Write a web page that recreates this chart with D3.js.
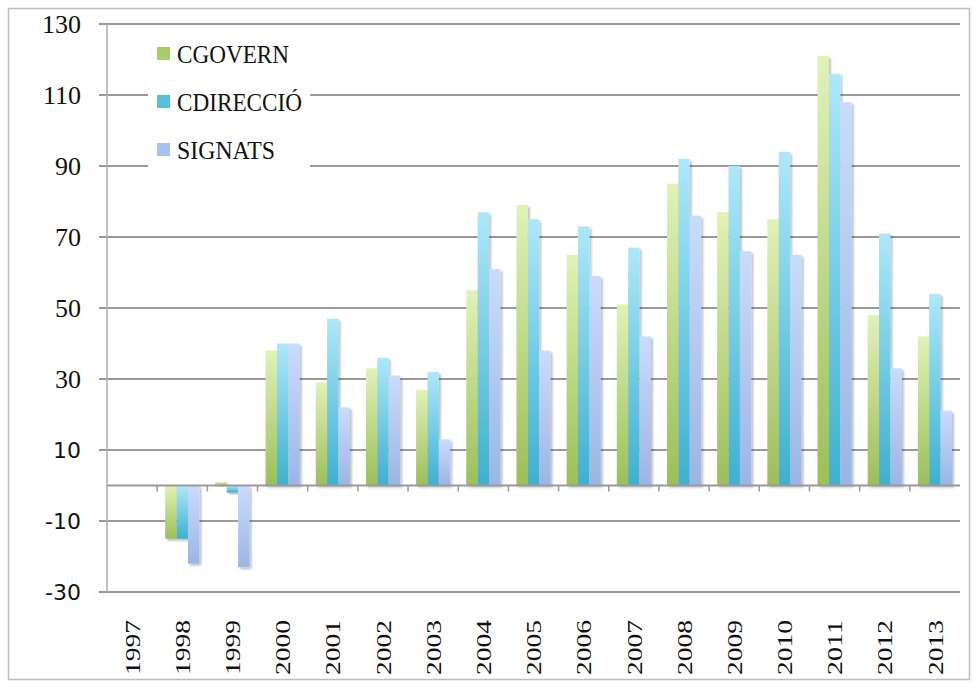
<!DOCTYPE html>
<html>
<head>
<meta charset="utf-8">
<script src="https://cdn.jsdelivr.net/npm/d3@7"></script>
<style>
  body { margin: 0; background: #fff; }
  svg { display: block; }
</style>
</head>
<body>
<div id="chart"></div>
<script>
var width = 973,
    height = 687;

// data
var years = ["1997","1998","1999","2000","2001","2002","2003","2004","2005",
             "2006","2007","2008","2009","2010","2011","2012","2013"];
var series = ["CGOVERN", "CDIRECCIÓ", "SIGNATS"];
var cgovern   = [0, -15, 1, 38, 29, 33, 27, 55, 79, 65, 51, 85, 77, 75, 121, 48, 42];
var cdireccio = [0, -15, -2, 40, 47, 36, 32, 77, 75, 73, 67, 92, 90, 94, 116, 71, 54];
var signats   = [0, -22, -23, 40, 22, 31, 13, 61, 38, 59, 42, 76, 66, 65, 108, 33, 21];
var yTicks = [130, 110, 90, 70, 50, 30, 10, -10, -30];

var values = [cgovern, cdireccio, signats];
var grads = [
  {id: "g0", top: "#e1f2b6", bottom: "#9cbf57", legend: "#a9cc6a"},
  {id: "g1", top: "#ade8fa", bottom: "#3eb0cf", legend: "#56c0dc"},
  {id: "g2", top: "#cadcfc", bottom: "#9bb5e4", legend: "#a9c2ee"}
];

var margin = {left: 107, right: 13, top: 24, bottom: 95};

var svg = d3.select("#chart")
    .append("svg")
    .attr("width", width)
    .attr("height", height);

var defs = svg.append("defs");
grads.forEach(function(g) {
  var lg = defs.append("linearGradient")
      .attr("id", g.id)
      .attr("x1", 0).attr("y1", 0).attr("x2", 0).attr("y2", 1);
  lg.append("stop").attr("offset", "0%").attr("stop-color", g.top);
  lg.append("stop").attr("offset", "100%").attr("stop-color", g.bottom);
});
defs.append("filter").attr("id", "shadow")
    .attr("x", "-20%").attr("y", "-10%").attr("width", "150%").attr("height", "130%")
  .append("feDropShadow")
    .attr("dx", 2).attr("dy", 2).attr("stdDeviation", 1.2)
    .attr("flood-color", "#000").attr("flood-opacity", 0.25);

// outer frame
svg.append("rect")
    .attr("x", 8.5).attr("y", 8.5)
    .attr("width", 961).attr("height", 671)
    .attr("fill", "none")
    .attr("stroke", "#bdbdbd")
    .attr("stroke-width", 1.5);

var x0 = d3.scaleBand().domain(years).range([margin.left, width - margin.right]);
var x1 = d3.scaleBand().domain(series)
    .range([x0.bandwidth() * 0.16, x0.bandwidth() * 0.84]);
var y = d3.scaleLinear().domain([-30, 130]).range([height - margin.bottom, margin.top]);

// gridlines
svg.append("g")
  .selectAll("line")
  .data(yTicks)
  .join("line")
    .attr("x1", margin.left - 8)
    .attr("x2", width - margin.right)
    .attr("y1", function(d) { return y(d); })
    .attr("y2", function(d) { return y(d); })
    .attr("stroke", "#9a9a9a")
    .attr("stroke-width", 2);

// y axis line
svg.append("line")
    .attr("x1", margin.left).attr("x2", margin.left)
    .attr("y1", y(130)).attr("y2", y(-30))
    .attr("stroke", "#ababab")
    .attr("stroke-width", 1.5);

// y labels (the lower ones show in a sans face in the original)
svg.append("g")
  .selectAll("text")
  .data(yTicks)
  .join("text")
    .attr("x", 81)
    .attr("y", function(d) { return y(d); })
    .attr("dy", "0.35em")
    .attr("text-anchor", "end")
    .attr("font-family", function(d) { return d <= 10 ? "DejaVu Sans" : "Liberation Serif"; })
    .attr("font-size", function(d) { return d <= 10 ? 22 : 26; })
    .attr("fill", "#111")
    .text(function(d) { return d; });

// bars
var groups = svg.append("g")
  .selectAll("g")
  .data(years)
  .join("g")
    .attr("transform", function(d) { return "translate(" + x0(d) + ",0)"; });

groups.selectAll("rect")
  .data(function(d, i) {
    return series.map(function(s, k) { return {s: s, k: k, v: values[k][i]}; });
  })
  .join("rect")
    .filter(function(d) { return d.v !== 0; })
    .attr("x", function(d) { return x1(d.s); })
    .attr("width", x1.bandwidth())
    .attr("y", function(d) { return y(Math.max(0, d.v)); })
    .attr("height", function(d) { return Math.abs(y(d.v) - y(0)); })
    .attr("fill", function(d) { return "url(#" + grads[d.k].id + ")"; })
    .attr("filter", "url(#shadow)");

// zero axis with ticks
svg.append("line")
    .attr("x1", margin.left).attr("x2", width - margin.right)
    .attr("y1", y(0)).attr("y2", y(0))
    .attr("stroke", "#9a9a9a")
    .attr("stroke-width", 2);

svg.append("g")
  .selectAll("line")
  .data(years.slice(1))
  .join("line")
    .attr("x1", function(d) { return x0(d); })
    .attr("x2", function(d) { return x0(d); })
    .attr("y1", y(0))
    .attr("y2", y(0) + 6)
    .attr("stroke", "#9a9a9a")
    .attr("stroke-width", 1.5);

// x labels, rotated
svg.append("g")
  .selectAll("text")
  .data(years)
  .join("text")
    .attr("transform", function(d) {
      return "translate(" + (x0(d) + x0.bandwidth() / 2) + ",620) rotate(-90)";
    })
    .attr("dy", "0.35em")
    .attr("text-anchor", "end")
    .attr("font-family", "Liberation Serif")
    .attr("font-size", 22)
    .attr("textLength", 55)
    .attr("lengthAdjust", "spacingAndGlyphs")
    .attr("fill", "#111")
    .text(function(d) { return d; });

// legend
var legend = svg.append("g");
legend.append("rect")
    .attr("x", 148).attr("y", 32)
    .attr("width", 162).attr("height", 150)
    .attr("fill", "#fff");

var item = legend.selectAll("g")
  .data(series)
  .join("g")
    .attr("transform", function(d, i) { return "translate(157," + (47 + i * 48) + ")"; });

item.append("rect")
    .attr("width", 13).attr("height", 13)
    .attr("fill", function(d, i) { return grads[i].legend; });

item.append("text")
    .attr("x", 20)
    .attr("y", 16)
    .attr("font-family", "Liberation Serif")
    .attr("font-size", 25)
    .attr("fill", "#111")
    .attr("textLength", function(d) { return d === "CGOVERN" ? 112 : (d === "SIGNATS" ? 98 : 125); })
    .attr("lengthAdjust", "spacingAndGlyphs")
    .text(function(d) { return d; });
</script>
</body>
</html>
